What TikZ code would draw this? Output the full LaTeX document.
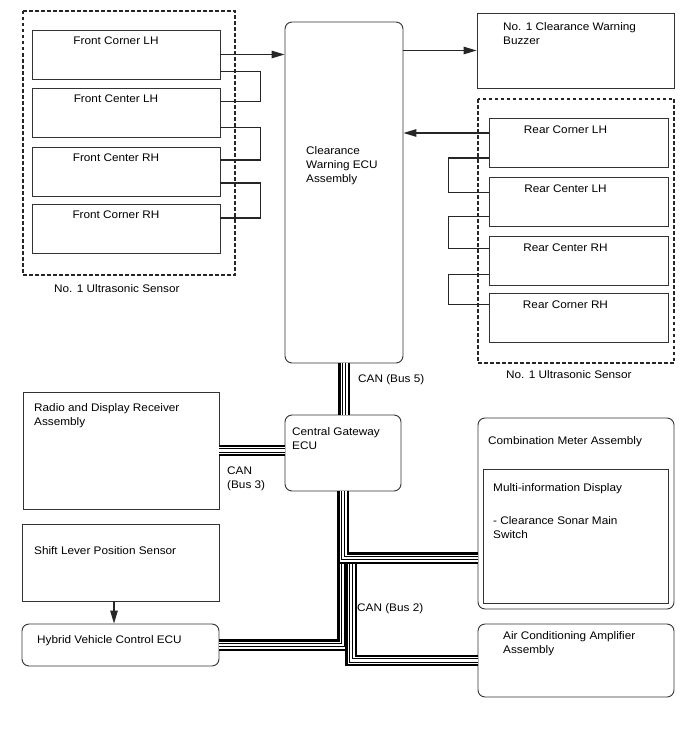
\documentclass[tikz,border=0pt]{standalone}
\usepackage{fontspec}
\setmainfont{Liberation Sans}[FakeStretch=1.07]
\usetikzlibrary{arrows.meta}

\tikzset{
    box/.style={draw=black!80, line width=.9bp, inner sep=0pt},
    rbox/.style={box, rounded corners=7bp},
    frontbox/.style={box, minimum width=188bp, minimum height=49bp},
    rearbox/.style={box, minimum width=179bp, minimum height=49bp},
    txt/.style={inner sep=0pt, anchor=north west, align=left, font=\fontsize{11bp}{14bp}\selectfont},
    ctxt/.style={txt, anchor=north},
    grp/.style={draw=black!85, line width=1.3bp, dash pattern=on 3.5bp off 2.5bp},
    sig/.style={draw=black!85, line width=1.2bp},
    arr/.style={sig, -{Triangle[length=13bp,width=7.5bp]}},
    canbus/.style={line width=11.5bp, black, line cap=butt, line join=miter,
        postaction={draw, white, line width=7bp},
        postaction={draw, black, line width=4.2bp},
        postaction={draw, white, line width=2.6bp}},
}

\begin{document}
\begin{tikzpicture}[x=1bp, y=-1bp]
    \useasboundingbox (0,0) rectangle (688,755);

    % front sensors
    \draw[grp] (23,11) rectangle (235,275);
    \node[frontbox] (fcl) at (126,54.5) {};
    \node[frontbox] (fcel) at (126,112.5) {};
    \node[frontbox] (fcer) at (126,172) {};
    \node[frontbox] (fcr) at (126,229) {};
    \node[ctxt] (fcltxt) at ([xshift=-10bp,yshift=-7bp]fcl.north) {Front Corner LH};
    \node[ctxt] (fceltxt) at ([xshift=-10bp,yshift=-7bp]fcel.north) {Front Center LH};
    \node[ctxt] (fcertxt) at ([xshift=-10bp,yshift=-7bp]fcer.north) {Front Center RH};
    \node[ctxt] (fcrtxt) at ([xshift=-10bp,yshift=-7bp]fcr.north) {Front Corner RH};
    \node[txt] (fgrptxt) at (54,284) {No. 1 Ultrasonic Sensor};

    % rear sensors
    \draw[grp] (478,99) rectangle (674,363);
    \node[rearbox] (rcl) at (578.5,143) {};
    \node[rearbox] (rcel) at (578.5,201.5) {};
    \node[rearbox] (rcer) at (578.5,260.5) {};
    \node[rearbox] (rcr) at (578.5,317.5) {};
    \node[ctxt] (rcltxt) at ([xshift=-13bp,yshift=-8bp]rcl.north) {Rear Corner LH};
    \node[ctxt] (rceltxt) at ([xshift=-13bp,yshift=-8bp]rcel.north) {Rear Center LH};
    \node[ctxt] (rcertxt) at ([xshift=-13bp,yshift=-8bp]rcer.north) {Rear Center RH};
    \node[ctxt] (rcrtxt) at ([xshift=-13bp,yshift=-8bp]rcr.north) {Rear Corner RH};
    \node[txt] (rgrptxt) at (506,370) {No. 1 Ultrasonic Sensor};

    % ECUs and other parts
    \node[rbox, minimum width=118bp, minimum height=341bp] (ecu) at (344,192.5) {};
    \node[txt] (ecutxt) at (306,146) {Clearance\\Warning ECU\\Assembly};
    \node[box, minimum width=197bp, minimum height=75bp] (bz) at (575.5,50.5) {};
    \node[txt] (bztxt) at (503,22) {No. 1 Clearance Warning\\Buzzer};
    \node[rbox, minimum width=116bp, minimum height=76bp] (gw) at (343,453) {};
    \node[txt] (gwtxt) at (292,427) {Central Gateway\\ECU};
    \node[box, minimum width=196bp, minimum height=117bp] (rd) at (121,450.5) {};
    \node[txt] (rdtxt) at (34,403) {Radio and Display Receiver\\Assembly};
    \node[box, minimum width=197bp, minimum height=77bp] (sl) at (120.5,562.5) {};
    \node[txt] (sltxt) at (34,546) {Shift Lever Position Sensor};
    \node[rbox, minimum width=197bp, minimum height=42bp] (hv) at (120.5,645) {};
    \node[txt] (hvtxt) at (37,635) {Hybrid Vehicle Control ECU};
    \node[rbox, minimum width=196bp, minimum height=191bp] (cm) at (576,513.5) {};
    \node[txt] (cmtxt) at (488,436) {Combination Meter Assembly};
    \node[box, minimum width=185bp, minimum height=134bp] (mid) at (575.5,536) {};
    \node[txt] (midtxt) at (493,483) {Multi-information Display\\[19bp]- Clearance Sonar Main\\Switch};
    \node[rbox, minimum width=196bp, minimum height=73bp] (ac) at (576,660.5) {};
    \node[txt] (actxt) at (503,631) {Air Conditioning Amplifier\\Assembly};

    % sensor chains
    \draw[sig] ([yshift=8bp]fcl.south east) -- ++(40,0) |- ([yshift=-14bp]fcel.north east);
    \draw[sig] ([yshift=10bp]fcel.south east) -- ++(40,0) |- ([yshift=-13bp]fcer.north east);
    \draw[sig] ([yshift=14bp]fcer.south east) -- ++(40,0) |- ([yshift=-14bp]fcr.north east);
    \draw[sig] ([yshift=10bp]rcl.south west) -- ++(-40,0) |- ([yshift=-16bp]rcel.north west);
    \draw[sig] ([yshift=10bp]rcel.south west) -- ++(-40,0) |- ([yshift=-13bp]rcer.north west);
    \draw[sig] ([yshift=11bp]rcer.south west) -- ++(-40,0) |- ([yshift=-12bp]rcr.north west);

    % signal arrows
    \draw[arr] (fcl.east) -- (fcl.east -| ecu.west);
    \draw[arr] (ecu.east |- bz.west) -- (bz.west);
    \draw[arr] ([yshift=10bp]rcl.west) -- ([yshift=10bp]rcl.west -| ecu.east);
    \draw[arr] ([xshift=-6.5bp]sl.south) -- ([xshift=-6.5bp]sl.south |- hv.north);

    % CAN lines
    \draw[canbus] (ecu.south) -- (ecu.south |- gw.north);
    \draw[canbus] (rd.east) -- (rd.east -| gw.west);
    \coordinate (cmj) at ([yshift=-44.5bp]cm.west);
    \draw[canbus] (gw.south) -- (gw.south |- hv.east) -- (hv.east);
    \draw[canbus] ([xshift=8bp]gw.south |- cmj) |- (ac.west);
    \draw[canbus] (gw.south) |- (cmj);
    \node[txt] (bus5txt) at (358,374) {CAN (Bus 5)};
    \node[txt] (bus3txt) at (227,467) {CAN\\(Bus 3)};
    \node[txt] (bus2txt) at (357,603) {CAN (Bus 2)};
\end{tikzpicture}
\end{document}
